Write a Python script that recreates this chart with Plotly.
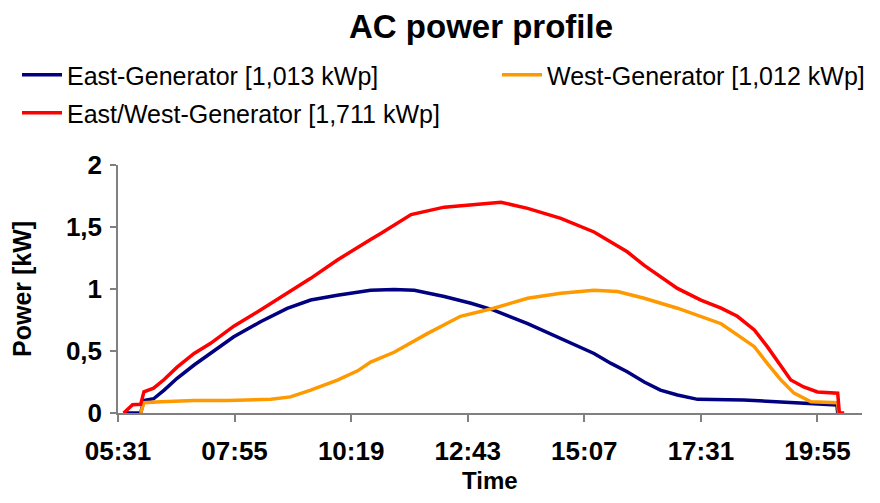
import plotly.graph_objects as go
import pandas as pd

DAY = "2024-06-21 "

# East-Generator (blue)
east_time = ["05:38", "05:59", "06:03", "06:15", "06:28", "06:44", "07:05", "07:25", "07:54", "08:27",
             "09:00", "09:29", "10:02", "10:43", "11:12", "11:37", "12:14", "12:47", "13:15", "13:57",
             "14:38", "15:19", "15:40", "16:00", "16:21", "16:41", "17:02", "17:27", "18:24", "19:06",
             "19:47", "20:19", "20:20"]
east_power = [0.0, 0.0, 0.10, 0.115, 0.185, 0.28, 0.387, 0.48, 0.615, 0.736,
              0.844, 0.911, 0.95, 0.99, 0.995, 0.99, 0.94, 0.885, 0.83, 0.72,
              0.60, 0.48, 0.40, 0.333, 0.25, 0.185, 0.145, 0.11, 0.105, 0.09,
              0.073, 0.065, 0.0]

# West-Generator (orange)
west_time = ["05:59", "06:03", "06:24", "07:05", "07:46", "08:40", "09:04", "09:29", "10:02", "10:27",
             "10:43", "11:12", "11:53", "12:34", "13:15", "13:57", "14:38", "15:19", "15:48", "16:21",
             "17:02", "17:31", "17:56", "18:16", "18:37", "18:53", "19:10", "19:26", "19:47", "20:20",
             "20:21"]
west_power = [0.0, 0.083, 0.09, 0.10, 0.10, 0.11, 0.13, 0.185, 0.266, 0.34,
              0.41, 0.49, 0.64, 0.78, 0.845, 0.925, 0.965, 0.99, 0.98, 0.925,
              0.845, 0.78, 0.72, 0.63, 0.535, 0.40, 0.266, 0.16, 0.09, 0.083,
              0.0]

# East/West-Generator (red)
ew_time = ["05:38", "05:49", "05:59", "06:03", "06:15", "06:28", "06:44", "07:05", "07:25", "07:54",
           "08:27", "09:00", "09:29", "10:02", "10:27", "10:43", "10:56", "11:33", "12:14", "13:07",
           "13:24", "13:57", "14:38", "15:19", "15:40", "16:00", "16:21", "16:41", "17:02", "17:31",
           "17:56", "18:16", "18:37", "18:53", "19:10", "19:22", "19:38", "19:55", "20:20", "20:22",
           "20:28"]
ew_power = [0.0, 0.066, 0.07, 0.17, 0.20, 0.27, 0.37, 0.48, 0.56, 0.70,
            0.83, 0.965, 1.086, 1.234, 1.34, 1.40, 1.45, 1.60, 1.66, 1.69,
            1.70, 1.65, 1.57, 1.46, 1.38, 1.30, 1.19, 1.10, 1.005, 0.91,
            0.845, 0.78, 0.67, 0.535, 0.37, 0.266, 0.21, 0.17, 0.16, 0.0,
            0.0]

x_ticks = ["05:31", "07:55", "10:19", "12:43", "15:07", "17:31", "19:55"]
y_ticks = [0, 0.5, 1, 1.5, 2]
y_tick_labels = ["0", "0,5", "1", "1,5", "2"]
x_range = ["05:31", "20:50"]

names = ["East-Generator [1,013 kWp]", "West-Generator [1,012 kWp]", "East/West-Generator [1,711 kWp]"]
colors = ["#000080", "#FF9900", "#FF0000"]


def to_dt(lst):
    return pd.to_datetime([DAY + t for t in lst])


FONT = "Liberation Sans, Arial, sans-serif"
# the page body adds an 8px margin around the figure; size the figure so it fills the 880x503 window
W, H = 864, 487

fig = go.Figure()
fig.add_trace(go.Scatter(x=to_dt(east_time), y=east_power, mode="lines", name=names[0],
                         line=dict(color=colors[0], width=3.5), legend="legend"))
fig.add_trace(go.Scatter(x=to_dt(west_time), y=west_power, mode="lines", name=names[1],
                         line=dict(color=colors[1], width=3.5), legend="legend2"))
fig.add_trace(go.Scatter(x=to_dt(ew_time), y=ew_power, mode="lines", name=names[2],
                         line=dict(color=colors[2], width=3.5), legend="legend3"))

leg_common = dict(orientation="h", xref="container", yref="container", xanchor="left", yanchor="middle",
                  font=dict(size=25, family=FONT, color="black"), bgcolor="rgba(0,0,0,0)", itemwidth=40)

fig.update_layout(
    width=W, height=H,
    paper_bgcolor="white", plot_bgcolor="white",
    margin=dict(l=110, r=10, t=157, b=82),
    font=dict(family=FONT, color="black"),
    title=dict(text="<b>AC power profile</b>", font=dict(size=33, family=FONT, color="black"),
               x=473 / W, xanchor="center", xref="container", y=1 - 18 / H, yanchor="middle"),
    legend=dict(x=9 / W, y=1 - 67 / H, **leg_common),
    legend2=dict(x=489 / W, y=1 - 67 / H, **leg_common),
    legend3=dict(x=9 / W, y=1 - 105 / H, **leg_common),
    showlegend=True,
    annotations=[
        dict(text="<b>Time</b>", xref="paper", yref="paper", x=0.5, y=0, yshift=-67,
             xanchor="center", yanchor="middle", showarrow=False,
             font=dict(size=24, family=FONT, color="black")),
        dict(text="<b>Power [kW]</b>", xref="paper", yref="paper", x=0, y=0.5, xshift=-96,
             xanchor="center", yanchor="middle", textangle=-90, showarrow=False,
             font=dict(size=25, family=FONT, color="black")),
    ],
)

fig.update_xaxes(
    type="date", range=list(to_dt(x_range)), automargin=False,
    tickvals=list(to_dt(x_ticks)), ticktext=x_ticks,
    showgrid=False, zeroline=False,
    showline=True, linecolor="#808080", linewidth=1.5,
    ticks="outside", ticklen=7, tickcolor="#808080", tickwidth=1.5,
    tickfont=dict(size=26, family=FONT, color="black", weight="bold"),
    ticklabelstandoff=7,
)
fig.update_yaxes(
    range=[0, 2], tickvals=y_ticks, ticktext=y_tick_labels, automargin=False,
    showgrid=False, zeroline=False,
    showline=True, linecolor="#808080", linewidth=1.5,
    ticks="outside", ticklen=6, tickcolor="#808080", tickwidth=1.5,
    tickfont=dict(size=26, family=FONT, color="black", weight="bold"),
    ticklabelstandoff=3,
)

fig.write_html("out.html")
